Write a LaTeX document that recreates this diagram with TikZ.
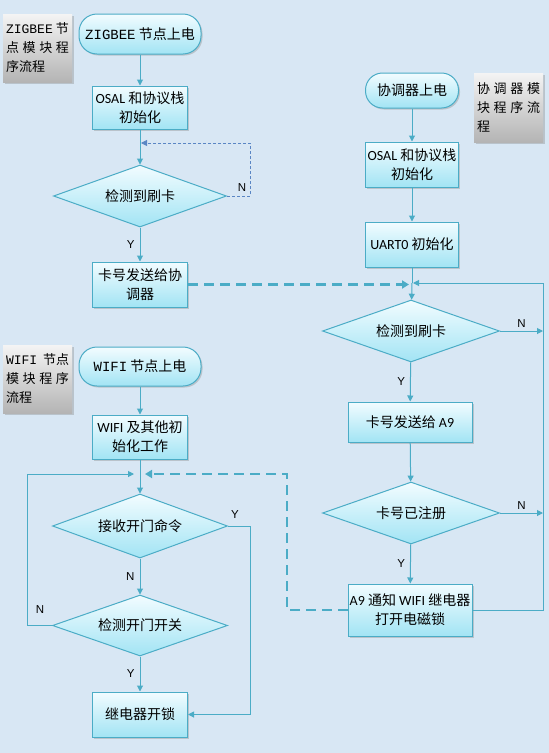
\documentclass[tikz,border=0pt]{standalone}
\usepackage{fontspec}
\setmainfont{Noto Sans CJK SC}
\newfontfamily\latfont{Carlito}
\newfontfamily\labmono{Liberation Mono}
\newfontfamily\ynfont{Liberation Sans}
\usetikzlibrary{shapes.geometric,arrows.meta,shadows}

\definecolor{bgblue}{HTML}{D8E7F4}
\definecolor{linecol}{HTML}{4BACC6}
\definecolor{loopcol}{HTML}{5A86C4}
\definecolor{boxtop}{HTML}{F2FCFF}
\definecolor{boxbot}{HTML}{A2E4F4}
\definecolor{labtop}{HTML}{F4F4F4}
\definecolor{labbot}{HTML}{B4B4B4}

\begin{document}
\begin{tikzpicture}[x=1pt,y=1pt,
    box/.style={draw=linecol, line width=1pt, top color=boxtop, bottom color=boxbot,
        align=center, inner sep=1pt, font=\fontsize{14}{19}\selectfont,
        drop shadow={shadow xshift=1.5pt, shadow yshift=-1.5pt, opacity=0.35}},
    term/.style={box, rounded corners=18pt},
    choice/.style={draw=linecol, line width=1pt, top color=boxtop, bottom color=boxbot,
        diamond, aspect=2.8, inner sep=0pt, font=\fontsize{14}{19}\selectfont},
    tag/.style={top color=labtop, bottom color=labbot, minimum width=69pt, minimum height=68pt,
        inner sep=3pt, align=left, font=\fontsize{13}{19}\selectfont,
        drop shadow={shadow xshift=1.5pt, shadow yshift=-1.5pt, opacity=0.35}},
    flow/.style={draw=linecol, line width=1pt, -{Triangle[width=6pt,length=6pt]}},
    link/.style={draw=linecol, line width=1pt},
    sendline/.style={draw=linecol, line width=2.6pt, dash pattern=on 10pt off 6pt,
        -{Triangle[width=8pt,length=7pt]}},
    yn/.style={font=\ynfont\fontsize{11.5}{12}\selectfont, inner sep=1pt}]

    % background
    \fill[bgblue] (0,0) rectangle (549,-753);
    \useasboundingbox (0,0) rectangle (549,-753);

    % ZIGBEE node
    \node[tag] (zlabel) at (37.5,-48) {\hbox to 63pt{{\labmono ZIGBEE}\hfill 节}\\ \hbox to 63pt{点\hfill 模\hfill 块\hfill 程}\\ 序流程};
    \node[term, minimum width=122pt, minimum height=40pt] (zstart) at (140,-34) {{\labmono ZIGBEE} 节点上电};
    \node[box, minimum width=95pt, minimum height=43pt] (zinit) at (140,-107.5) {{\latfont OSAL} 和协议栈\\初始化};
    \node[choice, minimum width=173pt, minimum height=62pt] (zcheck) at (140,-196) {检测到刷卡};
    \node[box, minimum width=95pt, minimum height=45pt] (zsend) at (140,-284.5) {卡号发送给协\\调器};
    \coordinate (zloop) at (140,-143);
    \coordinate (zturn) at (250,-196);

    \draw[flow] (zstart) -- (zinit);
    \draw[flow] (zinit) -- (zcheck);
    \draw[loopcol, line width=0.8pt, dash pattern=on 3pt off 2pt, -{Triangle[width=6pt,length=6pt]}]
        (zcheck.east) -- (zturn) |- ([xshift=1pt]zloop);
    \node[yn] (zn) at (242,-188) {N};
    \draw[flow] (zcheck) -- node[yn, left=4pt] (zy) {Y} (zsend);

    % coordinator
    \node[tag, minimum height=69pt] (clabel) at (508.5,-107.5) {\hbox to 63pt{协\hfill 调\hfill 器\hfill 模}\\ \hbox to 63pt{块\hfill 程\hfill 序\hfill 流}\\ 程};
    \node[term, rounded corners=17pt, minimum width=93pt, minimum height=35pt] (cstart) at (412,-90.5) {协调器上电};
    \node[box, minimum width=93pt, minimum height=45pt] (cinit) at (412,-164.5) {{\latfont OSAL} 和协议栈\\初始化};
    \node[box, minimum width=93pt, minimum height=45pt] (cuart) at (412,-244.5) {{\latfont UART0} 初始化};
    \coordinate (cjoin) at (412,-283);
    \node[choice, minimum width=177pt, minimum height=62pt] (ccheck) at (411,-331) {检测到刷卡};
    \node[box, minimum width=124pt, minimum height=40pt] (csend) at (410,-422) {卡号发送给 {\latfont A9}};
    \node[choice, minimum width=177pt, minimum height=62pt] (creg) at (411,-513) {卡号已注册};
    \node[box, minimum width=124pt, minimum height=52pt] (cnotify) at (410,-610) {{\latfont A9} 通知 {\latfont WIFI} 继电器\\打开电磁锁};
    \coordinate (railb) at (543,-610);
    \coordinate (railt) at (543,-283);

    \draw[flow] (cstart) -- (cinit);
    \draw[flow] (cinit) -- (cuart);
    \draw[link] (cuart) -- (cjoin);
    \draw[flow] (cjoin) -- (ccheck);
    \draw[flow] (cnotify.east) -- (railb) -- (railt) -- ([xshift=1pt]cjoin);
    \draw[flow] (ccheck.east) -- node[yn, above=2pt] (cn1) {N} (ccheck.east -| railt);
    \draw[flow] (ccheck) -- node[yn, left=4pt] (cy1) {Y} (csend);
    \draw[flow] (csend) -- (creg);
    \draw[flow] (creg.east) -- node[yn, above=2pt] (cn2) {N} (creg.east -| railt);
    \draw[flow] (creg) -- node[yn, left=4pt] (cy2) {Y} (cnotify);
    \draw[sendline] (zsend.east) -- ([xshift=-3pt]zsend.east -| cjoin);

    % WIFI node
    \node[tag] (wlabel) at (37.5,-379) {\hbox to 63pt{{\labmono WIFI}\hfill 节点}\\ \hbox to 63pt{模\hfill 块\hfill 程\hfill 序}\\ 流程};
    \node[term, minimum width=122pt, minimum height=39pt] (wstart) at (140,-366.5) {{\labmono WIFI} 节点上电};
    \node[box, minimum width=95pt, minimum height=44pt] (winit) at (140,-437) {{\latfont WIFI} 及其他初\\始化工作};
    \coordinate (wjoin) at (140,-474);
    \node[choice, minimum width=175pt, minimum height=64pt] (wrecv) at (140,-526) {接收开门命令};
    \node[choice, minimum width=175pt, minimum height=61pt] (wswitch) at (140,-625.5) {检测开门开关};
    \node[box, minimum width=95pt, minimum height=45pt] (wrelay) at (140,-714.5) {继电器开锁};
    \coordinate (wleft) at (27,-625.5);
    \coordinate (wright) at (250,-526);
    \coordinate (wdash) at (287,-610);

    \draw[flow] (wstart) -- (winit);
    \draw[link] (winit) -- (wjoin);
    \draw[flow] (wjoin) -- (wrecv);
    \draw[flow] (wswitch.west) -- (wleft) |- ([xshift=-6pt]wjoin);
    \node[yn] (wn2) at (40,-610) {N};
    \draw[flow] (wrecv.east) -- (wright) |- (wrelay.east);
    \node[yn] (wy1) at (235,-515) {Y};
    \draw[flow] (wrecv) -- node[yn, left=4pt] (wn1) {N} (wswitch);
    \draw[flow] (wswitch) -- node[yn, left=4pt] (wy2) {Y} (wrelay);
    \draw[sendline] (cnotify.west) -- (wdash) |- ([xshift=5pt]wjoin);
\end{tikzpicture}
\end{document}
